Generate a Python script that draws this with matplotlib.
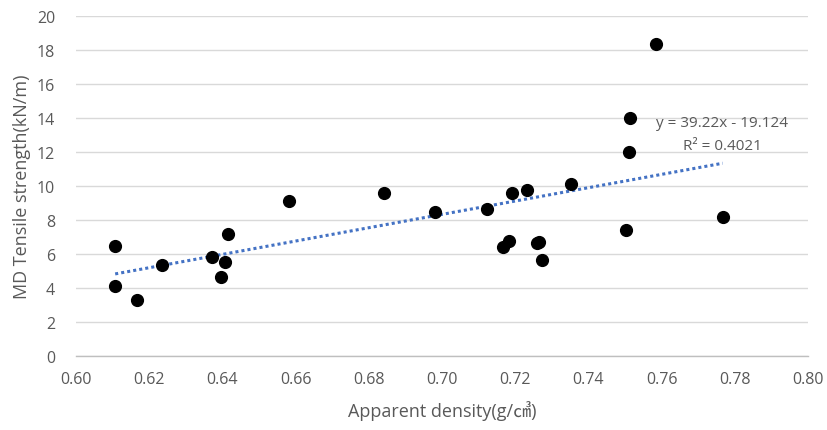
import matplotlib
matplotlib.use("Agg")
import matplotlib.pyplot as plt
import numpy as np

# Apparent density (g/cm3) and MD tensile strength (kN/m) of each sample
density = [0.6107, 0.6107, 0.6166, 0.6236, 0.6372, 0.6407, 0.6396, 0.6415,
           0.6581, 0.6842, 0.6981, 0.7122, 0.7192, 0.7233, 0.7353, 0.7166,
           0.7183, 0.7259, 0.7266, 0.7272, 0.7503, 0.7510, 0.7515, 0.7584,
           0.7767]
strength = [6.47, 4.12, 3.30, 5.38, 5.85, 5.50, 4.67, 7.20,
            9.09, 9.56, 8.49, 8.64, 9.56, 9.74, 10.09, 6.39,
            6.76, 6.65, 6.73, 5.67, 7.39, 11.98, 14.00, 18.34,
            8.19]

# Linear trend line coefficients
slope = 39.22
intercept = -19.124
r_squared = 0.4021

x_ticks = [0.60, 0.62, 0.64, 0.66, 0.68, 0.70, 0.72, 0.74, 0.76, 0.78, 0.80]
y_ticks = [0, 2, 4, 6, 8, 10, 12, 14, 16, 18, 20]

plt.rcParams['font.family'] = ['Open Sans', 'Noto Sans CJK SC', 'DejaVu Sans']

text_color = '#595959'
fig = plt.figure(figsize=(8.27, 4.31), dpi=100)
ax = fig.add_axes([0.0919, 0.1717, 0.8851, 0.7889])

ax.set_xlim(0.60, 0.80)
ax.set_ylim(0, 20)
ax.set_xticks(x_ticks)
ax.set_xticklabels([f"{t:.2f}" for t in x_ticks])
ax.set_yticks(y_ticks)
ax.set_yticklabels([str(t) for t in y_ticks])

ax.grid(axis='y', color='#D9D9D9', linewidth=1.0)
ax.set_axisbelow(True)
for side in ('top', 'right', 'left'):
    ax.spines[side].set_visible(False)
ax.spines['bottom'].set_color('#BFBFBF')
ax.spines['bottom'].set_linewidth(1.0)
ax.tick_params(axis='both', length=0, labelsize=11.5, colors=text_color)
ax.tick_params(axis='x', pad=11)
ax.tick_params(axis='y', pad=15)

ax.scatter(density, strength, s=72, color='black', zorder=3)

xs = np.array([min(density), max(density)])
ax.plot(xs, slope * xs + intercept, linestyle=(0, (1, 1)), color='#4472C4',
        linewidth=2.2, zorder=2)

ax.text(0.7765, 13.74, f"y = {slope}x - {abs(intercept)}", ha='center', va='center',
        fontsize=11, color=text_color, zorder=4)
ax.text(0.7765, 12.38, f"R² = {r_squared}", ha='center', va='center',
        fontsize=11, color=text_color, zorder=4)

ax.set_xlabel("Apparent density(g/㎤)", fontsize=13, color=text_color, labelpad=9)
ax.set_ylabel("MD Tensile strength(kN/m)", fontsize=13, color=text_color, labelpad=4)

fig.savefig("out.png", dpi=100)
